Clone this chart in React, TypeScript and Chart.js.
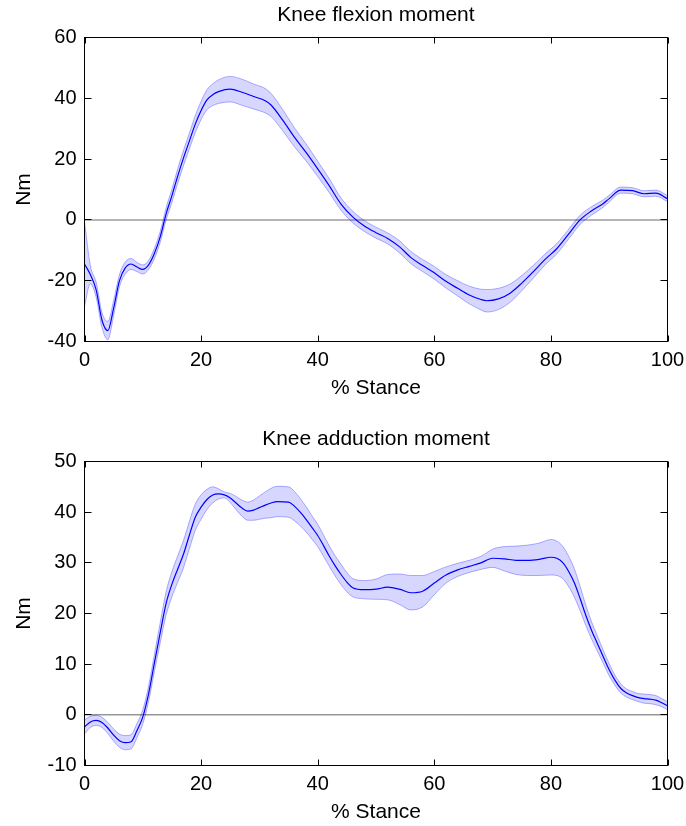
import React, { useEffect, useRef } from "react";
import { Chart, registerables } from "chart.js";

Chart.register(...registerables);

// ---------- Data ----------
const X_TICKS = [0, 20, 40, 60, 80, 100];
const X_LABEL = "% Stance";
const Y_LABEL = "Nm";

// Knee flexion moment (top)
const KF_TITLE = "Knee flexion moment";
const KF_Y_TICKS = [-40, -20, 0, 20, 40, 60];
const KF_X = [0, 1, 2, 3, 4, 5, 6, 7, 8, 9, 10, 11, 12, 13, 14, 15, 16, 17, 18, 19, 20, 21, 22, 23, 25, 27, 29, 31, 32, 34, 36, 38, 40, 42, 44, 46, 48, 50, 52, 54, 56, 58, 60, 62, 64, 66, 68, 69, 71, 73, 75, 77, 79, 81, 83, 85, 87, 89, 90, 92, 94, 96, 98, 100];
const KF_MEAN = [-14.5, -18, -23, -33, -36.4, -29, -20, -15.8, -14.5, -15.5, -16.3, -14.8, -11, -5.5, 2, 8, 14.5, 20.5, 26, 31.5, 36, 39.5, 41.2, 42.2, 43, 42, 40.6, 39.2, 37.8, 32.8, 27.2, 22.2, 16.8, 11.2, 5.2, 1, -2, -4.2, -6.1, -8.8, -12.4, -15, -17.4, -20.2, -22.5, -24.7, -26.2, -26.6, -26, -24.1, -20.8, -17, -13, -9.5, -4.8, 0, 3, 5.4, 7, 9.8, 9.6, 8.6, 8.8, 7];
const KF_SD = [14, 3, 2.5, 2.5, 3, 2.5, 2, 2, 1.8, 1.5, 1.5, 1.5, 1.7, 1.8, 2, 2.2, 2.4, 2.5, 2.6, 2.8, 3, 3.3, 3.6, 3.9, 4.2, 4.3, 4.1, 4, 3.8, 3.5, 3.1, 2.8, 2.5, 2.3, 2, 1.9, 1.8, 1.8, 1.8, 2, 2, 2, 2.1, 2.2, 2.5, 2.9, 3.4, 3.7, 3.5, 3, 2.5, 2.1, 1.8, 1.7, 1.6, 1.5, 1.4, 1.2, 1.1, 1, 1, 1, 1, 1];

// Knee adduction moment (bottom)
const KA_TITLE = "Knee adduction moment";
const KA_Y_TICKS = [-10, 0, 10, 20, 30, 40, 50];
const KA_X = [0, 1, 2, 3, 4, 5, 6, 7, 8, 9, 10, 11, 12, 13, 14, 15, 16, 17, 18, 19, 20, 21, 22, 23, 24, 25, 26, 27, 28, 29, 30, 31, 32, 33, 35, 36, 37, 38, 39, 40, 41, 42, 43, 44, 45, 46, 48, 50, 52, 54, 56, 58, 60, 62, 64, 66, 68, 70, 72, 74, 76, 78, 80, 81, 82, 83, 84, 85, 86, 87, 88, 89, 90, 91, 92, 93, 94, 95, 96, 97, 98, 99, 100];
const KA_MEAN = [-2.4, -1.4, -1.1, -1.5, -2.6, -4.0, -5.1, -5.5, -5.3, -3.1, -0.4, 4.2, 10.3, 16.3, 22, 25.8, 28.8, 31.8, 35.5, 39, 41, 42.5, 43.4, 43.6, 43.4, 42.8, 41.8, 40.8, 40.2, 40.4, 40.9, 41.4, 41.8, 42.1, 42, 41.2, 40, 38.6, 37, 35.4, 33.4, 31.3, 29.4, 27.7, 26.2, 25.1, 24.7, 24.8, 25.2, 24.8, 24.1, 24.4, 26, 27.6, 28.6, 29.3, 30, 30.9, 30.8, 30.5, 30.5, 30.7, 31.1, 30.9, 30.1, 28.4, 26.1, 23, 19.6, 16.6, 14, 11.4, 8.9, 6.8, 5.2, 4.3, 3.8, 3.4, 3.2, 3.1, 2.9, 2.4, 1.8];
const KA_SD = [1.4, 1.1, 1, 1, 1.1, 1.2, 1.3, 1.4, 1.4, 1.4, 1.4, 1.5, 1.7, 2, 2.3, 2.5, 2.6, 2.7, 2.7, 2.6, 2.4, 2, 1.6, 1, 0.6, 0.9, 1.3, 1.6, 1.8, 2, 2.3, 2.6, 2.9, 3, 3, 2.9, 2.7, 2.5, 2.3, 2.2, 2.1, 2, 2, 2, 1.9, 1.8, 1.8, 2, 2.5, 3, 3.4, 3.1, 2.3, 1.6, 1.3, 1.2, 1.3, 1.8, 2.4, 2.8, 3, 3.2, 3.5, 3.4, 3.2, 3, 2.8, 2.4, 2, 1.7, 1.5, 1.3, 1.2, 1, 0.9, 0.8, 0.8, 0.8, 0.9, 0.9, 0.9, 0.8, 0.8];

const FONT_FAMILY = "'Liberation Sans', Arial, Helvetica, sans-serif";

type PanelCfg = {
  title: string;
  xs: number[];
  mean: number[];
  sd: number[];
  yTicks: number[];
  titlePadTop: number;
  titlePadBottom: number;
  xAxisHeight: number;
  xTitlePadBottom: number;
  zeroColor: string;
  zeroWidth: number;
};

const framePlugin = {
  id: "matlabFrame",
  afterDatasetsDraw(chart: any) {
    const { ctx, chartArea, scales } = chart;
    const { left, right, top, bottom } = chartArea;
    ctx.save();
    ctx.strokeStyle = "#000";
    ctx.lineWidth = 1;
    ctx.beginPath();
    const xs = scales.x;
    const ys = scales.y;
    xs.ticks.forEach((t: any) => {
      const px = Math.round(xs.getPixelForValue(t.value)) + 0.5;
      ctx.moveTo(px, bottom);
      ctx.lineTo(px, bottom - 6);
      ctx.moveTo(px, top);
      ctx.lineTo(px, top + 6);
    });
    ys.ticks.forEach((t: any) => {
      const py = Math.round(ys.getPixelForValue(t.value) - 0.5) + 0.5;
      ctx.moveTo(left, py);
      ctx.lineTo(left + 7, py);
      ctx.moveTo(right, py);
      ctx.lineTo(right - 7, py);
    });
    ctx.stroke();
    ctx.strokeRect(left, top, right - left, bottom - top);
    ctx.restore();
  },
};

function Panel(props: { cfg: PanelCfg }) {
  const ref = useRef<HTMLCanvasElement | null>(null);
  const cfg = props.cfg;
  useEffect(() => {
    if (!ref.current) return;
    const lower = cfg.xs.map((x, i) => ({ x, y: cfg.mean[i] - cfg.sd[i] }));
    const upper = cfg.xs.map((x, i) => ({ x, y: cfg.mean[i] + cfg.sd[i] }));
    const mean = cfg.xs.map((x, i) => ({ x, y: cfg.mean[i] }));
    const zero = [
      { x: X_TICKS[0], y: 0 },
      { x: X_TICKS[X_TICKS.length - 1], y: 0 },
    ];
    const chart = new Chart(ref.current, {
      type: "line",
      data: {
        datasets: [
          {
            data: lower,
            borderColor: "rgba(0,0,255,0.3)",
            borderWidth: 1,
            pointRadius: 0,
            fill: false,
            cubicInterpolationMode: "monotone",
          },
          {
            data: upper,
            borderColor: "rgba(0,0,255,0.3)",
            borderWidth: 1,
            pointRadius: 0,
            fill: "-1",
            backgroundColor: "rgba(0,0,255,0.16)",
            cubicInterpolationMode: "monotone",
          },
          {
            data: mean,
            borderColor: "#0000ff",
            borderWidth: 1.2,
            pointRadius: 0,
            fill: false,
            cubicInterpolationMode: "monotone",
          },
          {
            data: zero,
            borderColor: cfg.zeroColor,
            borderWidth: cfg.zeroWidth,
            pointRadius: 0,
            fill: false,
          },
        ],
      },
      options: {
        animation: false,
        responsive: false,
        maintainAspectRatio: false,
        events: [],
        layout: { padding: { left: 0, top: 0, right: 18.5, bottom: 0 } },
        plugins: {
          legend: { display: false },
          tooltip: { enabled: false },
          title: {
            display: true,
            text: cfg.title,
            fullSize: false,
            color: "#000",
            font: { family: FONT_FAMILY, size: 21, weight: "normal", lineHeight: 1.2 },
            padding: { top: cfg.titlePadTop, bottom: cfg.titlePadBottom },
          },
        },
        scales: {
          x: {
            type: "linear",
            min: X_TICKS[0],
            max: X_TICKS[X_TICKS.length - 1],
            afterBuildTicks: (s: any) => {
              s.ticks = X_TICKS.map((v) => ({ value: v }));
            },
            grid: { display: false, drawTicks: false, tickLength: 0 },
            border: { display: false },
            ticks: {
              color: "#000",
              padding: 7,
              maxRotation: 0,
              autoSkip: false,
              font: { family: FONT_FAMILY, size: 20, lineHeight: 1.2 },
            },
            title: {
              display: true,
              text: X_LABEL,
              color: "#000",
              font: { family: FONT_FAMILY, size: 21, lineHeight: 1.2 },
              padding: { top: 0, bottom: cfg.xTitlePadBottom },
            },
            afterFit: (s: any) => {
              s.height = cfg.xAxisHeight;
              s.paddingLeft = 0;
              s.paddingRight = 0;
            },
          },
          y: {
            type: "linear",
            min: cfg.yTicks[0],
            max: cfg.yTicks[cfg.yTicks.length - 1],
            afterBuildTicks: (s: any) => {
              s.ticks = cfg.yTicks.map((v) => ({ value: v }));
            },
            grid: { display: false, drawTicks: false, tickLength: 0 },
            border: { display: false },
            ticks: {
              color: "#000",
              padding: 8,
              autoSkip: false,
              font: { family: FONT_FAMILY, size: 20, lineHeight: 1.2 },
            },
            title: {
              display: true,
              text: Y_LABEL,
              color: "#000",
              font: { family: FONT_FAMILY, size: 21, lineHeight: 1.2 },
              padding: { top: 11.9, bottom: 0 },
            },
            afterFit: (s: any) => {
              s.width = 84.5;
              s.paddingTop = 0;
              s.paddingBottom = 0;
            },
          },
        },
      },
      plugins: [framePlugin],
    } as any);
    return () => chart.destroy();
  }, []);
  return <canvas ref={ref} width={686} height={413} style={{ display: "block", width: 686, height: 413 }} />;
}

const TOP: PanelCfg = {
  title: KF_TITLE,
  xs: KF_X,
  mean: KF_MEAN,
  sd: KF_SD,
  yTicks: KF_Y_TICKS,
  titlePadTop: 2.7,
  titlePadBottom: 9.6,
  xAxisHeight: 71.5,
  xTitlePadBottom: 11.7,
  zeroColor: "rgba(90,90,90,0.6)",
  zeroWidth: 1.5,
};

const BOTTOM: PanelCfg = {
  title: KA_TITLE,
  xs: KA_X,
  mean: KA_MEAN,
  sd: KA_SD,
  yTicks: KA_Y_TICKS,
  titlePadTop: 13.2,
  titlePadBottom: 10.1,
  xAxisHeight: 60.5,
  xTitlePadBottom: 0.9,
  zeroColor: "rgba(60,60,60,0.8)",
  zeroWidth: 1,
};

export default function App() {
  return (
    <div style={{ position: "absolute", left: 0, top: 0, width: 686, height: 826, background: "#fff" }}>
      <Panel cfg={TOP} />
      <Panel cfg={BOTTOM} />
    </div>
  );
}
